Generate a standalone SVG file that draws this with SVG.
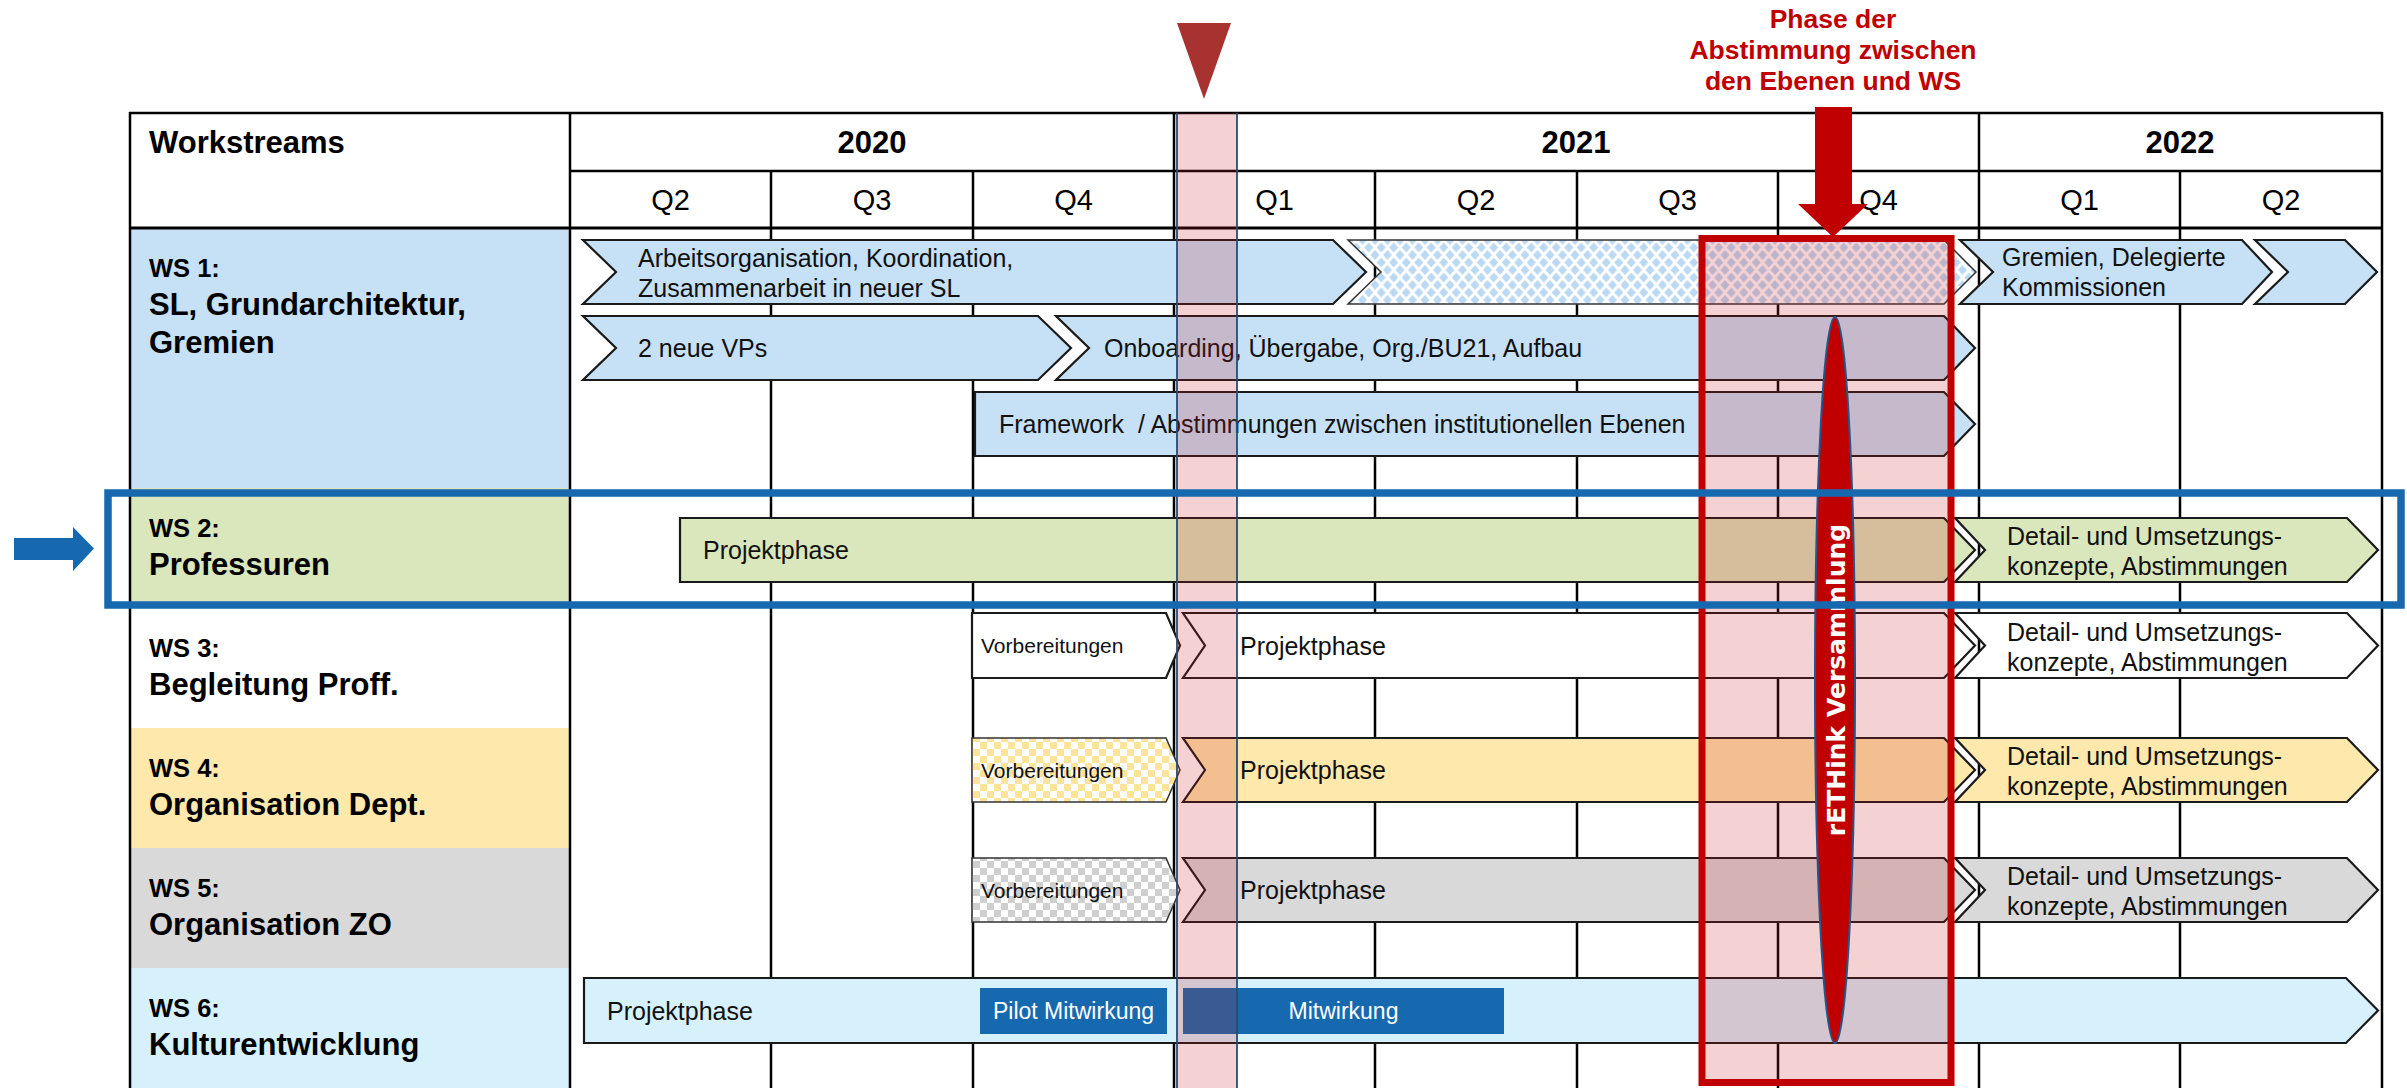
<svg xmlns="http://www.w3.org/2000/svg" width="2407" height="1088" viewBox="0 0 2407 1088">
  <style>
    .hd { font-family: "Liberation Sans", Arial, sans-serif; font-weight: bold; fill: #000; }
    .q { font-family: "Liberation Sans", Arial, sans-serif; font-size: 29px; fill: #000; text-anchor: middle; }
    .ws { font-family: "Liberation Sans", Arial, sans-serif; font-weight: bold; font-size: 25.5px; fill: #000; }
    .nm { font-family: "Liberation Sans", Arial, sans-serif; font-weight: bold; font-size: 31px; fill: #000; }
    .bt { font-family: "Liberation Sans", Arial, sans-serif; font-size: 25px; fill: #111; white-space: pre; }
    .sm { font-family: "Liberation Sans", Arial, sans-serif; font-size: 21px; fill: #111; }
    .wt { font-family: "Liberation Sans", Arial, sans-serif; font-size: 23px; fill: #fff; text-anchor: middle; }
    .red { font-family: "Liberation Sans", Arial, sans-serif; font-weight: bold; font-size: 26.5px; fill: #C00000; text-anchor: middle; }
    .grid { stroke: #000; stroke-width: 2.5; fill: none; }
    .bar { stroke: #1a1a1a; stroke-width: 2.2; stroke-linejoin: miter; }
    .blue1 { fill: #C6E0F5; }
    .green { fill: #DAE6BB; }
    .yellow { fill: #FEE8AB; }
    .gray { fill: #D9D9D9; }
    .cyan { fill: #D6F1FC; }
    .tint { fill: rgb(200,30,40); fill-opacity: 0.2; }
  </style>
  <defs>
    <pattern id="diamonds" width="12.5" height="15" patternUnits="userSpaceOnUse">
      <rect width="12.5" height="15" fill="#fff"/>
      <path d="M6.25,2.5 L10.75,7.5 L6.25,12.5 L1.75,7.5 Z M0,-5 L4.5,0 L0,5 L-4.5,0 Z M12.5,-5 L17,0 L12.5,5 L8,0 Z M0,10 L4.5,15 L0,20 L-4.5,15 Z M12.5,10 L17,15 L12.5,20 L8,15 Z" fill="#BBD9F3"/>
    </pattern>
    <pattern id="chkYellow" width="14" height="14" patternUnits="userSpaceOnUse">
      <rect width="14" height="14" fill="#fff"/>
      <rect width="7" height="7" fill="#FDE49A"/>
      <rect x="7" y="7" width="7" height="7" fill="#FDE49A"/>
    </pattern>
    <pattern id="chkGray" width="14" height="14" patternUnits="userSpaceOnUse">
      <rect width="14" height="14" fill="#fff"/>
      <rect width="7" height="7" fill="#CFCFCF"/>
      <rect x="7" y="7" width="7" height="7" fill="#CFCFCF"/>
    </pattern>
  </defs>

  <rect width="2407" height="1088" fill="#fff"/>

  <!-- label column backgrounds -->
  <g id="label-backgrounds">
    <rect x="129" y="228" width="441" height="260" class="blue1"/>
    <rect x="129" y="488" width="441" height="120" class="green"/>
    <rect x="129" y="608" width="441" height="120" fill="#fff"/>
    <rect x="129" y="728" width="441" height="120" class="yellow"/>
    <rect x="129" y="848" width="441" height="120" class="gray"/>
    <rect x="129" y="968" width="441" height="120" class="cyan"/>
  </g>

  <!-- table grid -->
  <g id="grid" class="grid">
    <line x1="129" y1="113" x2="2382" y2="113"/>
    <line x1="570" y1="171" x2="2382" y2="171"/>
    <line x1="129" y1="228" x2="2382" y2="228" stroke-width="3"/>
    <line x1="130" y1="112" x2="130" y2="1088"/>
    <line x1="570" y1="112" x2="570" y2="1088"/>
    <line x1="1174" y1="112" x2="1174" y2="1088"/>
    <line x1="1979" y1="112" x2="1979" y2="1088"/>
    <line x1="2382" y1="112" x2="2382" y2="1088"/>
    <line x1="771" y1="171" x2="771" y2="1088"/>
    <line x1="973" y1="171" x2="973" y2="1088"/>
    <line x1="1375" y1="171" x2="1375" y2="1088"/>
    <line x1="1577" y1="171" x2="1577" y2="1088"/>
    <line x1="1778" y1="171" x2="1778" y2="1088"/>
    <line x1="2180" y1="171" x2="2180" y2="1088"/>
  </g>

  <!-- header texts -->
  <g id="header">
    <text class="hd" x="149" y="153" font-size="31">Workstreams</text>
    <text class="hd" x="872" y="153" font-size="31" text-anchor="middle">2020</text>
    <text class="hd" x="1576" y="153" font-size="31" text-anchor="middle">2021</text>
    <text class="hd" x="2180" y="153" font-size="31" text-anchor="middle">2022</text>
    <text class="q" x="670.5" y="210">Q2</text>
    <text class="q" x="872" y="210">Q3</text>
    <text class="q" x="1073.5" y="210">Q4</text>
    <text class="q" x="1274.5" y="210">Q1</text>
    <text class="q" x="1476" y="210">Q2</text>
    <text class="q" x="1677.5" y="210">Q3</text>
    <text class="q" x="1878.5" y="210">Q4</text>
    <text class="q" x="2079.5" y="210">Q1</text>
    <text class="q" x="2281" y="210">Q2</text>
  </g>

  <!-- workstream labels -->
  <g id="ws1-label"><text class="ws" x="149" y="277">WS 1:</text><text class="nm" x="149" y="315">SL, Grundarchitektur,</text><text class="nm" x="149" y="353">Gremien</text></g>
  <g id="ws2-label"><text class="ws" x="149" y="537">WS 2:</text><text class="nm" x="149" y="575">Professuren</text></g>
  <g id="ws3-label"><text class="ws" x="149" y="657">WS 3:</text><text class="nm" x="149" y="695">Begleitung Proff.</text></g>
  <g id="ws4-label"><text class="ws" x="149" y="777">WS 4:</text><text class="nm" x="149" y="815">Organisation Dept.</text></g>
  <g id="ws5-label"><text class="ws" x="149" y="897">WS 5:</text><text class="nm" x="149" y="935">Organisation ZO</text></g>
  <g id="ws6-label"><text class="ws" x="149" y="1017">WS 6:</text><text class="nm" x="149" y="1055">Kulturentwicklung</text></g>

  <!-- WS 1 bars -->
  <g id="ws1-arbeitsorganisation">
    <path class="bar blue1" d="M583,240 L1333,240 L1366,272 L1333,304 L583,304 L616,272 Z"/>
    <text class="bt" x="638" y="267">Arbeitsorganisation, Koordination,</text>
    <text class="bt" x="638" y="297">Zusammenarbeit in neuer SL</text>
  </g>
  <g id="ws1-continuation">
    <path d="M1348,240 L1944,240 L1976,272 L1944,304 L1348,304 L1381,272 Z" fill="url(#diamonds)" stroke="#333" stroke-width="1.5"/>
  </g>
  <g id="ws1-gremien">
    <path class="bar blue1" d="M1960,240 L2242,240 L2272,272 L2242,304 L1960,304 L1993,272 Z"/>
    <text class="bt" x="2002" y="266">Gremien, Delegierte</text>
    <text class="bt" x="2002" y="296">Kommissionen</text>
  </g>
  <g id="ws1-gremien-next">
    <path class="bar blue1" d="M2255,240 L2345,240 L2377,272 L2345,304 L2255,304 L2288,272 Z"/>
  </g>
  <g id="ws1-vps">
    <path class="bar blue1" d="M583,316 L1038,316 L1071,348 L1038,380 L583,380 L616,348 Z"/>
    <text class="bt" x="638" y="357">2 neue VPs</text>
  </g>
  <g id="ws1-onboarding">
    <path class="bar blue1" d="M1056,316 L1944,316 L1975,348 L1944,380 L1056,380 L1089,348 Z"/>
    <text class="bt" x="1104" y="357">Onboarding, Übergabe, Org./BU21, Aufbau</text>
  </g>
  <g id="ws1-framework">
    <path class="bar blue1" d="M975,392 L1944,392 L1975,424 L1944,456 L975,456 Z"/>
    <text class="bt" x="999" y="433">Framework  / Abstimmungen zwischen institutionellen Ebenen</text>
  </g>

  <!-- WS 2 bars -->
  <g id="ws2-projektphase">
    <path class="bar green" d="M680,518 L1944,518 L1975,550 L1944,582 L680,582 Z"/>
    <text class="bt" x="703" y="559">Projektphase</text>
  </g>
  <g id="ws2-detail">
    <path class="bar green" d="M1955,518 L2347,518 L2378,550 L2347,582 L1955,582 L1985,550 Z"/>
    <text class="bt" x="2007" y="545">Detail- und Umsetzungs-</text>
    <text class="bt" x="2007" y="575">konzepte, Abstimmungen</text>
  </g>

  <!-- WS 3 bars -->
  <g id="ws3-vorbereitungen">
    <path class="bar" fill="#fff" d="M972,613 L1166,613 L1180,645.5 L1166,678 L972,678 Z"/>
    <text class="sm" x="981" y="653">Vorbereitungen</text>
  </g>
  <g id="ws3-projektphase">
    <path class="bar" fill="#fff" d="M1183,613 L1944,613 L1975,645.5 L1944,678 L1183,678 L1205,645.5 Z"/>
    <text class="bt" x="1240" y="655">Projektphase</text>
  </g>
  <g id="ws3-detail">
    <path class="bar" fill="#fff" d="M1955,613 L2347,613 L2378,645.5 L2347,678 L1955,678 L1985,645.5 Z"/>
    <text class="bt" x="2007" y="641">Detail- und Umsetzungs-</text>
    <text class="bt" x="2007" y="671">konzepte, Abstimmungen</text>
  </g>

  <!-- WS 4 bars -->
  <g id="ws4-vorbereitungen">
    <path d="M972,738 L1166,738 L1180,770 L1166,802 L972,802 Z" fill="url(#chkYellow)" stroke="#333" stroke-width="1.5"/>
    <text class="sm" x="981" y="778">Vorbereitungen</text>
  </g>
  <g id="ws4-projektphase">
    <path class="bar yellow" d="M1183,738 L1944,738 L1975,770 L1944,802 L1183,802 L1205,770 Z"/>
    <text class="bt" x="1240" y="779">Projektphase</text>
  </g>
  <g id="ws4-detail">
    <path class="bar yellow" d="M1955,738 L2347,738 L2378,770 L2347,802 L1955,802 L1985,770 Z"/>
    <text class="bt" x="2007" y="765">Detail- und Umsetzungs-</text>
    <text class="bt" x="2007" y="795">konzepte, Abstimmungen</text>
  </g>

  <!-- WS 5 bars -->
  <g id="ws5-vorbereitungen">
    <path d="M972,858 L1166,858 L1180,890 L1166,922 L972,922 Z" fill="url(#chkGray)" stroke="#333" stroke-width="1.5"/>
    <text class="sm" x="981" y="898">Vorbereitungen</text>
  </g>
  <g id="ws5-projektphase">
    <path class="bar gray" d="M1183,858 L1944,858 L1975,890 L1944,922 L1183,922 L1205,890 Z"/>
    <text class="bt" x="1240" y="899">Projektphase</text>
  </g>
  <g id="ws5-detail">
    <path class="bar gray" d="M1955,858 L2347,858 L2378,890 L2347,922 L1955,922 L1985,890 Z"/>
    <text class="bt" x="2007" y="885">Detail- und Umsetzungs-</text>
    <text class="bt" x="2007" y="915">konzepte, Abstimmungen</text>
  </g>

  <!-- WS 6 bars -->
  <g id="ws6-projektphase">
    <path class="bar cyan" d="M584,978 L2346,978 L2378,1010.5 L2346,1043 L584,1043 Z"/>
    <text class="bt" x="607" y="1019.5">Projektphase</text>
  </g>
  <g id="ws6-pilot">
    <rect x="980" y="988" width="187" height="46" fill="#1769AF"/>
    <text class="wt" x="1073.5" y="1019">Pilot Mitwirkung</text>
  </g>
  <g id="ws6-mitwirkung">
    <rect x="1183" y="988" width="321" height="46" fill="#1769AF"/>
    <text class="wt" x="1343.5" y="1019">Mitwirkung</text>
  </g>

  <!-- start-of-year marker strip -->
  <g id="milestone-strip">
    <rect x="1177" y="113" width="60" height="975" class="tint"/>
    <line x1="1177" y1="113" x2="1177" y2="1088" stroke="#1F4E79" stroke-width="1.8"/>
    <line x1="1237" y1="113" x2="1237" y2="1088" stroke="#1F4E79" stroke-width="1.8"/>
    <polygon points="1177,23 1231,23 1204,99" fill="#A83230"/>
  </g>

  <!-- alignment phase box -->
  <g id="alignment-phase">
    <rect x="1702" y="238.5" width="249" height="844" class="tint" stroke="#C00000" stroke-width="7"/>
    <text class="red" x="1833" y="28">Phase der</text>
    <text class="red" x="1833" y="59">Abstimmung zwischen</text>
    <text class="red" x="1833" y="90">den Ebenen und WS</text>
  </g>

  <!-- assembly -->
  <g id="versammlung">
    <ellipse cx="1835" cy="680" rx="20" ry="363" fill="#C00000" stroke="#24568A" stroke-width="2"/>
    <text transform="translate(1845,680) rotate(-90)" x="0" y="0" text-anchor="middle" font-family="'DejaVu Sans', sans-serif" font-weight="bold" font-size="25" fill="#fff">rETHink Versammlung</text>
  </g>

  <!-- highlight frame for WS 2 -->
  <g id="ws2-highlight">
    <rect x="108" y="493" width="2293" height="112" fill="none" stroke="#1769AF" stroke-width="7.5"/>
  </g>

  <g id="connectors">
    <polygon points="1815,107 1852,107 1852,204 1868,204 1833,237 1798,204 1815,204" fill="#C00000"/>
    <polygon points="14,538 73,538 73,527 94,548.5 73,571 73,560 14,560" fill="#1769AF"/>
  </g>
</svg>
